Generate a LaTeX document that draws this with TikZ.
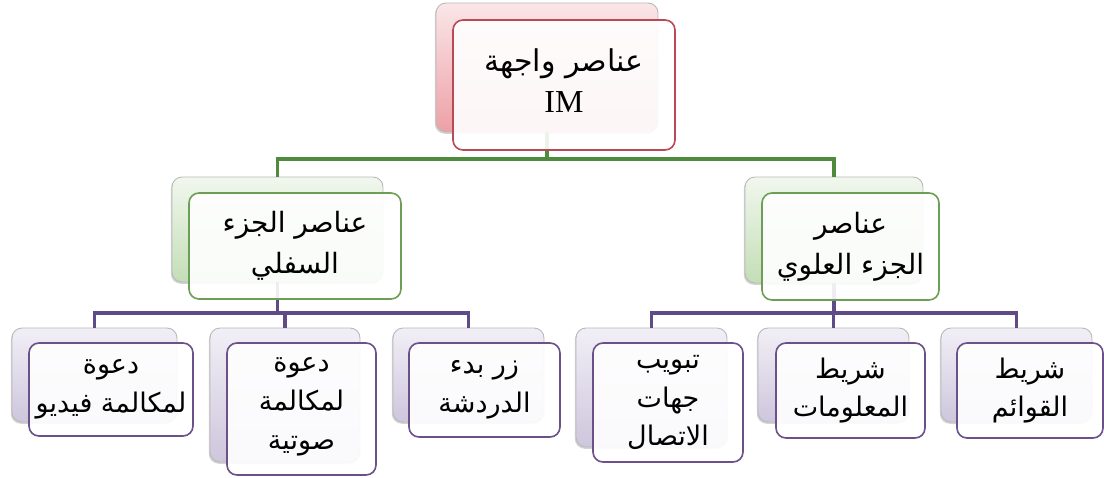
\documentclass[tikz,border=0pt]{standalone}
\usepackage{fontspec}
\setmainfont{Liberation Serif}
\newfontfamily\arabicfont[Script=Arabic]{DejaVu Sans}
\TeXXeTstate=1
\usetikzlibrary{shadows}
\definecolor{pinkT}{HTML}{FAE6E8}
\definecolor{pinkB}{HTML}{EDA0A6}
\definecolor{redB}{HTML}{B94A55}
\definecolor{greenT}{HTML}{F1F7EE}
\definecolor{greenB}{HTML}{C3DEB6}
\definecolor{greenB2}{HTML}{6C9E55}
\definecolor{greenL}{HTML}{4E8B3C}
\definecolor{purpT}{HTML}{F1EFF6}
\definecolor{purpB}{HTML}{CEC6DD}
\definecolor{purpB2}{HTML}{6B5089}
\definecolor{purpL}{HTML}{5F4B86}
\begin{document}
\begin{tikzpicture}[x=1pt,y=-1pt,
  backcard/.style={draw=gray!55, line width=0.9pt, rounded corners=10pt, inner sep=0pt, outer sep=0pt,
    drop shadow={shadow xshift=-1.2pt, shadow yshift=-1.8pt, opacity=0.35, fill=gray}},
  backR/.style={backcard, top color=pinkT, bottom color=pinkB},
  backG/.style={backcard, top color=greenT, bottom color=greenB},
  backP/.style={backcard, top color=purpT, bottom color=purpB},
  frontcard/.style={line width=1.6pt, rounded corners=10pt, fill=white, fill opacity=0.9, text opacity=1,
    align=center, inner sep=0pt, outer sep=0pt},
  frontR/.style={frontcard, draw=redB, font=\fontsize{32}{42}\selectfont},
  frontG/.style={frontcard, draw=greenB2, font=\arabicfont\fontsize{28}{41}\selectfont},
  frontP/.style={frontcard, draw=purpB2, font=\arabicfont\fontsize{27}{38.5}\selectfont},
  ptext/.style={align=center, inner sep=0pt, font=\arabicfont\fontsize{27}{39}\selectfont},
  rtext/.style={align=center, inner sep=0pt, font=\fontsize{32}{41}\selectfont},
  gline/.style={draw=greenL, line width=3.2pt},
  pline/.style={draw=purpL, line width=3.2pt}]
\useasboundingbox (0,0) rectangle (1104,477);

% connector joints
\coordinate (gj) at (547,159);
\coordinate (pl) at (277.5,313);
\coordinate (pr) at (834,313);

% back cards
\node[backR, minimum width=222pt, minimum height=129pt] (tb) at (547,67.5) {};
\node[backG, minimum width=211pt, minimum height=105pt] (lb) at (277.5,229.5) {};
\node[backG, minimum width=178pt, minimum height=106pt] (rb) at (834,230) {};
\node[backP, minimum width=165pt, minimum height=94pt] (v1) at (94.5,375) {};
\node[backP, minimum width=150pt, minimum height=134pt] (v2) at (285,395) {};
\node[backP, minimum width=151pt, minimum height=94pt] (v3) at (468.5,375) {};
\node[backP, minimum width=151pt, minimum height=119pt] (w1) at (651.5,387.5) {};
\node[backP, minimum width=151pt, minimum height=94pt] (w2) at (833.5,375) {};
\node[backP, minimum width=151pt, minimum height=94pt] (w3) at (1016.5,375) {};

% connectors
\draw[gline] (tb.south) -- (gj) -| (lb.north);
\draw[gline] (gj) -| (rb.north);
\draw[pline] (lb.south) -- (pl) -| (v1.north);
\draw[pline] (pl) -| (v2.north);
\draw[pline] (pl) -| (v3.north);
\draw[pline] (rb.south) -- (pr) -| (w1.north);
\draw[pline] (pr) -| (w2.north);
\draw[pline] (pr) -| (w3.north);

% front cards
\node[frontR, minimum width=222pt, minimum height=130pt] (tf) at (564,85) {};
\node[rtext] (tft) at (564,81)
  {{\arabicfont\fontsize{30}{41}\selectfont\beginR عناصر واجهة\endR}\\IM};
\node[frontG, minimum width=212pt, minimum height=106pt] (lf) at (295,246)
  {\beginR عناصر الجزء\endR\\\beginR السفلي\endR};
\node[frontG, minimum width=177pt, minimum height=107pt] (rf) at (850.5,246.5)
  {\beginR عناصر\endR\\\beginR الجزء العلوي\endR};
\node[frontP, minimum width=164pt, minimum height=93pt] (v1f) at (111,389.5)
  {\beginR دعوة\endR\\\beginR لمكالمة فيديو\endR};
\node[frontP, minimum width=149pt, minimum height=132pt] (v2f) at (301.5,409) {};
\node[ptext] (v2t) at (301.5,407)
  {\beginR دعوة\endR\\\beginR لمكالمة\endR\\\beginR صوتية\endR};
\node[frontP, minimum width=151pt, minimum height=94pt] (v3f) at (484.5,390)
  {\beginR زر بدء\endR\\\beginR الدردشة\endR};
\node[frontP, minimum width=150pt, minimum height=119pt] (w1f) at (668,402.5)
  {\beginR تبويب\endR\\\beginR جهات\endR\\\beginR الاتصال\endR};
\node[frontP, minimum width=149pt, minimum height=95pt] (w2f) at (850.5,390.5)
  {\beginR شريط\endR\\\beginR المعلومات\endR};
\node[frontP, minimum width=146pt, minimum height=95pt] (w3f) at (1030,390.5)
  {\beginR شريط\endR\\\beginR القوائم\endR};
\end{tikzpicture}
\end{document}
